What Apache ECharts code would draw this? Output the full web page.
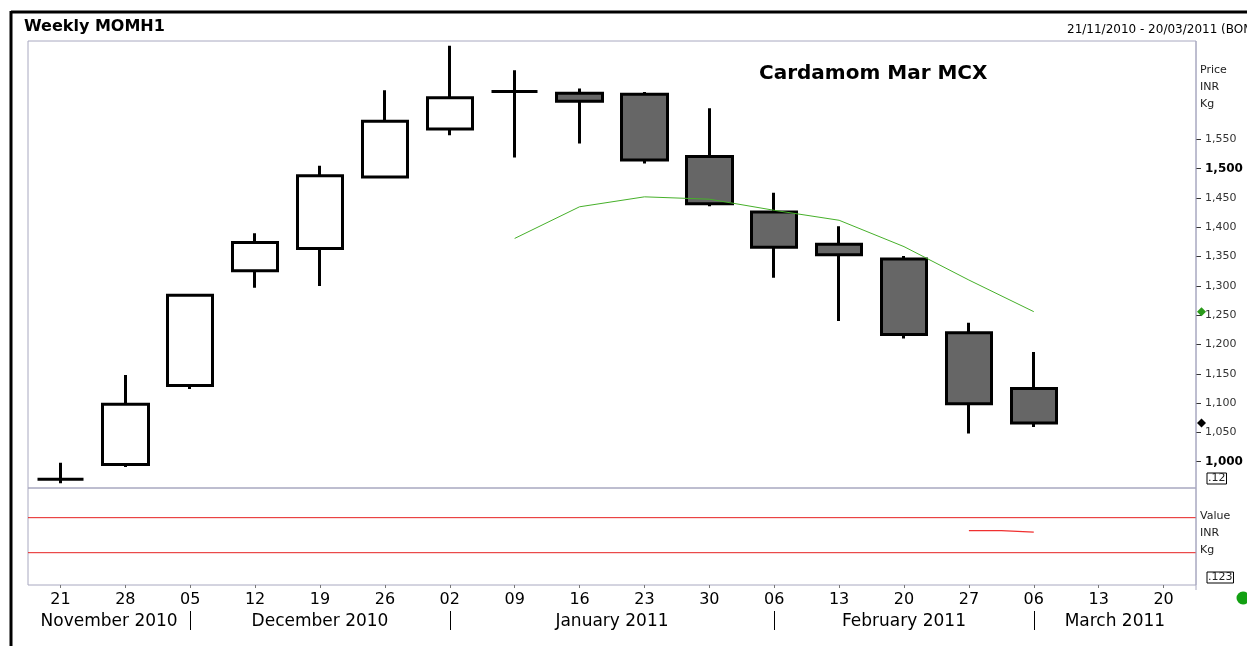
<!DOCTYPE html>
<html><head><meta charset="utf-8">
<script src="https://cdn.jsdelivr.net/npm/echarts@6/dist/echarts.min.js"></script>
<style>html,body{margin:0;padding:0;background:#fff;overflow:hidden}#c{width:1247px;height:646px}</style>
</head><body><div id="c"></div>
<script>
// ---- data ----
const weeks = ['21','28','05','12','19','26','02','09','16','23','30','06','13','20','27','06','13','20'];
const openP  = [970, 995, 1130, 1326, 1364, 1486, 1568, 1632, 1629, 1627, 1521, 1426, 1371, 1346, 1220, 1125];
const closeP = [970, 1098, 1284, 1374, 1488, 1581, 1621, 1632, 1615, 1515, 1440, 1366, 1353, 1217, 1099, 1066];
const lowP   = [963, 991, 1124, 1297, 1300, 1486, 1557, 1519, 1543, 1509, 1436, 1314, 1240, 1210, 1048, 1059];
const highP  = [998, 1148, 1284, 1390, 1505, 1634, 1710, 1668, 1637, 1631, 1603, 1459, 1402, 1351, 1237, 1187];
const movingAvg = [null, null, null, null, null, null, null, 1381, 1435, 1452, 1448, 1429, 1412, 1367, 1310, 1256, null, null];
const lowerSignalWeek = [14, 15];
const lowerSignalVal = [55.1, 53.6];
const lowerLevels = [70, 30];
const priceTicks = [1000, 1050, 1100, 1150, 1200, 1250, 1300, 1350, 1400, 1450, 1500, 1550];
const boldTicks = [1000, 1500];
const monthLabels = ['November 2010', 'December 2010', 'January 2011', 'February 2011', 'March 2011'];
const monthCenters = [0.75, 4, 8.5, 13, 16.25];
const monthBreaks = [2, 6, 11, 15];

const FONT = 'DejaVu Sans';
const FRAME = '#a8a8c0';
const candles = openP.map((o, i) => [o, closeP[i], lowP[i], highP[i]]);
const lowerSignal = lowerSignalWeek.map((w, i) => [w, lowerSignalVal[i]]);
const X_MIN = -0.5, X_MAX = weeks.length - 0.5;

const chart = echarts.init(document.getElementById('c'), null, {renderer: 'canvas'});
const levelSeries = lowerLevels.map(v => ({
  type: 'line', xAxisIndex: 2, yAxisIndex: 1, data: [[X_MIN, v], [X_MAX, v]], symbol: 'none',
  lineStyle: {color: '#e62020', width: 1}, silent: true, z: 3
}));
const option = {
  animation: false,
  backgroundColor: '#fff',
  textStyle: {fontFamily: FONT},
  grid: [
    {left: 28, right: 51, top: 41, height: 447, show: true, borderColor: FRAME, borderWidth: 1, backgroundColor: 'transparent'},
    {left: 28, right: 51, top: 488, height: 97, show: true, borderColor: FRAME, borderWidth: 1, backgroundColor: 'transparent'}
  ],
  xAxis: [
    {type: 'category', gridIndex: 0, data: weeks, boundaryGap: true,
     axisLine: {show: false, onZero: false}, axisTick: {show: false}, axisLabel: {show: false}, splitLine: {show: false}},
    {type: 'category', gridIndex: 1, data: weeks, boundaryGap: true, position: 'bottom',
     axisLine: {show: false, onZero: false},
     axisTick: {show: true, alignWithLabel: true, length: 3, lineStyle: {color: '#777'}},
     axisLabel: {show: true, margin: 7, fontSize: 16, color: '#000', fontFamily: FONT},
     splitLine: {show: false}},
    {type: 'value', gridIndex: 1, min: X_MIN, max: X_MAX, position: 'bottom',
     axisLine: {show: false, onZero: false}, axisTick: {show: false}, splitLine: {show: false},
     axisLabel: {show: true, margin: 28, fontSize: 17, color: '#000', fontFamily: FONT,
       customValues: monthCenters,
       formatter: function (v) {
         let best = 0;
         monthCenters.forEach((c, k) => { if (Math.abs(c - v) < Math.abs(monthCenters[best] - v)) best = k; });
         return monthLabels[best];
       }}},
    {type: 'value', gridIndex: 1, min: X_MIN, max: X_MAX, position: 'bottom', offset: 26,
     axisLine: {show: false, onZero: false}, splitLine: {show: false}, axisLabel: {show: false},
     axisTick: {show: true, length: 19, customValues: monthBreaks, lineStyle: {color: '#000', width: 1}}}
  ],
  yAxis: [
    {type: 'value', gridIndex: 0, position: 'right', min: 955, max: 1718,
     axisLine: {show: false, onZero: false},
     axisTick: {show: true, length: 5, customValues: priceTicks, lineStyle: {color: '#333'}},
     splitLine: {show: false},
     axisLabel: {show: true, margin: 9, customValues: priceTicks, fontFamily: FONT,
       formatter: function (v) {
         const s = Number(v).toLocaleString('en-US');
         return boldTicks.indexOf(Math.round(v)) >= 0 ? '{b|' + s + '}' : '{n|' + s + '}';
       },
       rich: {
         n: {fontSize: 11, color: '#333', fontFamily: FONT},
         b: {fontSize: 12, fontWeight: 'bold', color: '#000', fontFamily: FONT}
       }}},
    {type: 'value', gridIndex: 1, position: 'right', min: -6.9, max: 103.9,
     axisLine: {show: false, onZero: false}, axisTick: {show: false},
     axisLabel: {show: false}, splitLine: {show: false}}
  ],
  series: [
    {type: 'candlestick', xAxisIndex: 0, yAxisIndex: 0, data: candles, barWidth: 46,
     itemStyle: {color: '#ffffff', color0: '#666666', borderColor: '#000000', borderColor0: '#000000',
       borderColorDoji: '#000000', borderWidth: 3}},
    {type: 'line', xAxisIndex: 0, yAxisIndex: 0, data: movingAvg, symbol: 'none', connectNulls: false,
     lineStyle: {color: '#46b02a', width: 1}},
    {type: 'line', xAxisIndex: 2, yAxisIndex: 1, data: lowerSignal, symbol: 'none', step: 'middle',
     lineStyle: {color: '#f03030', width: 1.2}}
  ].concat(levelSeries)
};
chart.setOption(option);

// last values marked on the price axis
const lastMA = movingAvg.filter(v => v != null).slice(-1)[0];
const lastClose = closeP[closeP.length - 1];
const yMA = chart.convertToPixel({yAxisIndex: 0}, lastMA);
const yClose = chart.convertToPixel({yAxisIndex: 0}, lastClose);
const axisX = chart.convertToPixel({xAxisIndex: 2}, X_MAX);

function diamond(cx, cy, r, color) {
  return {type: 'polygon', shape: {points: [[cx, cy - r], [cx + r, cy], [cx, cy + r], [cx - r, cy]]},
          style: {fill: color}, z: 10};
}
function txt(x, y, text, size, weight, extra) {
  return Object.assign({type: 'text', x: x, y: y, z: 10,
    style: Object.assign({text: text, fontSize: size, fontWeight: weight || 'normal', fontFamily: FONT,
      fill: '#000', textVerticalAlign: 'middle', verticalAlign: 'middle'}, extra || {})});
}

chart.setOption({
  graphic: {elements: [
    // outer black frame
    {type: 'line', shape: {x1: 11, y1: 12, x2: 1247, y2: 12}, style: {stroke: '#000', lineWidth: 3}, z: 10},
    {type: 'line', shape: {x1: 11, y1: 11, x2: 11, y2: 646}, style: {stroke: '#000', lineWidth: 3}, z: 10},
    // price axis line runs through both panels
    {type: 'line', shape: {x1: axisX, y1: 41, x2: axisX, y2: 590}, style: {stroke: FRAME, lineWidth: 1}, z: 9},
    txt(24, 27, 'Weekly MOMH1', 16, 'bold'),
    txt(1067, 30, '21/11/2010 - 20/03/2011 (BOM', 12, 'normal'),
    txt(759, 74, 'Cardamom Mar MCX', 20, 'bold'),
    txt(1200, 70, 'Price', 11, 'normal', {fill: '#222'}),
    txt(1200, 87, 'INR', 11, 'normal', {fill: '#222'}),
    txt(1200, 104, 'Kg', 11, 'normal', {fill: '#222'}),
    txt(1200, 516, 'Value', 11, 'normal', {fill: '#222'}),
    txt(1200, 533, 'INR', 11, 'normal', {fill: '#222'}),
    txt(1200, 550, 'Kg', 11, 'normal', {fill: '#222'}),
    txt(1207, 478.5, '.12', 11, 'normal', {fill: '#222', borderColor: '#000', borderWidth: 1, padding: [0, 1, 0, 1]}),
    txt(1207, 577.5, '.123', 11, 'normal', {fill: '#222', borderColor: '#000', borderWidth: 1, padding: [0, 1, 0, 1]}),
    diamond(axisX + 5.5, yMA, 4.5, '#2a9a1a'),
    diamond(axisX + 5.5, yClose, 4.5, '#000'),
    {type: 'circle', shape: {cx: 1243, cy: 598, r: 6.5}, style: {fill: '#12a012'}, z: 10}
  ]}
});
</script>
</body></html>
